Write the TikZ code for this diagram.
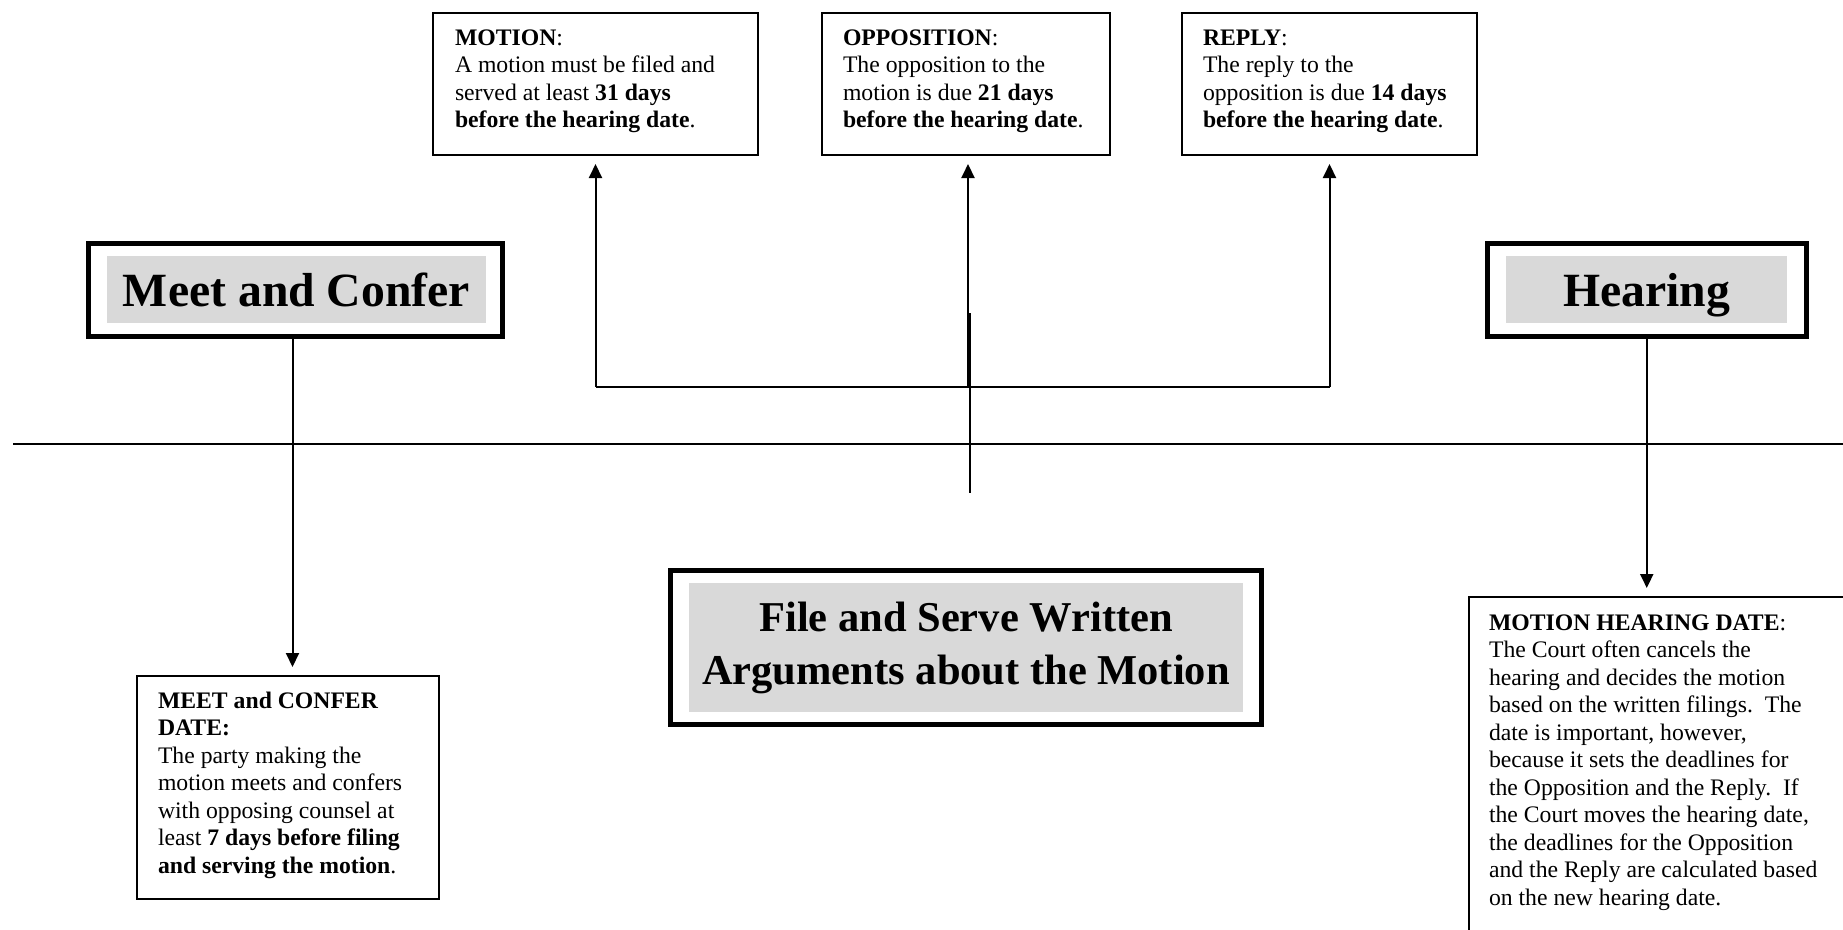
\documentclass[tikz,border=0pt]{standalone}
\usepackage{fontspec}
\setmainfont{Liberation Serif}
\usetikzlibrary{arrows.meta}
\definecolor{boxgray}{HTML}{D9D9D9}
\tikzset{
  line/.style={line width=2pt},
  arr/.style={line width=2pt,-{Triangle[width=13pt,length=14pt]},shorten >=9pt},
  thinbox/.style={draw,line width=1.8pt,inner sep=0pt,outer sep=0pt,anchor=north west},
  thickbox/.style={draw,line width=5pt,inner sep=0pt,outer sep=0pt},
  graybox/.style={fill=boxgray,inner sep=0pt,outer sep=0pt},
  txt/.style={inner sep=0pt,outer sep=0pt,anchor=base west},
  bigtxt/.style={font=\fontsize{47.7}{52}\selectfont\bfseries,text height=33pt,text depth=0pt},
}
\newcommand{\smalltext}[1]{\begin{minipage}[t]{420pt}\fontsize{23.7}{27.5}\selectfont #1\end{minipage}}
\begin{document}
\begin{tikzpicture}[x=1pt,y=-1pt]
\useasboundingbox (0,0) rectangle (1843,929);
\clip (0,0) rectangle (1843,929);

% top boxes
\node[thinbox,minimum width=325pt,minimum height=142pt] (motion) at (433,13) {};
\node[txt] (motiontxt) at ([xshift=22pt,yshift=-32pt]motion.north west) {\smalltext{%
\textbf{MOTION}:\\
A motion must be filed and\\
served at least \textbf{31 days}\\
\textbf{before the hearing date}.}};

\node[thinbox,minimum width=288pt,minimum height=142pt] (opp) at (822,13) {};
\node[txt] (opptxt) at ([xshift=21pt,yshift=-32pt]opp.north west) {\smalltext{%
\textbf{OPPOSITION}:\\
The opposition to the\\
motion is due \textbf{21 days}\\
\textbf{before the hearing date}.}};

\node[thinbox,minimum width=295pt,minimum height=142pt] (reply) at (1182,13) {};
\node[txt] (replytxt) at ([xshift=21pt,yshift=-32pt]reply.north west) {\smalltext{%
\textbf{REPLY}:\\
The reply to the\\
opposition is due \textbf{14 days}\\
\textbf{before the hearing date}.}};

% headline boxes
\node[thickbox,minimum width=414pt,minimum height=93pt] (meet) at (295.5,290) {};
\node[graybox,minimum width=379pt,minimum height=67pt,bigtxt] (meettxt) at (296.5,289.5) {Meet and Confer};

\node[thickbox,minimum width=319.5pt,minimum height=93pt] (hearing) at (1646.75,290) {};
\node[graybox,minimum width=281pt,minimum height=67pt,bigtxt] (hearingtxt) at (1646.5,289.5) {Hearing};

\node[thickbox,minimum width=591pt,minimum height=154pt] (file) at (966,647.5) {};
\node[graybox,minimum width=554pt,minimum height=129pt,align=center,
      font=\fontsize{42.5}{53}\selectfont\bfseries] (filetxt) at (966,647.5)
  {File and Serve Written\\Arguments about the Motion};

% bottom boxes
\node[thinbox,minimum width=302pt,minimum height=223pt] (meetdate) at (137,676) {};
\node[txt] (meetdatetxt) at ([xshift=21pt,yshift=-32pt]meetdate.north west) {\smalltext{%
\textbf{MEET and CONFER}\\
\textbf{DATE:}\\
The party making the\\
motion meets and confers\\
with opposing counsel at\\
least \textbf{7 days before filing}\\
\textbf{and serving the motion}.}};

\node[thinbox,minimum width=500pt,minimum height=400pt] (mhd) at (1469,597) {};
\node[txt] (mhdtxt) at ([xshift=20pt,yshift=-33pt]mhd.north west) {\smalltext{%
\textbf{MOTION HEARING DATE}:\\
The Court often cancels the\\
hearing and decides the motion\\
based on the written filings.\ \ The\\
date is important, however,\\
because it sets the deadlines for\\
the Opposition and the Reply.\ \ If\\
the Court moves the hearing date,\\
the deadlines for the Opposition\\
and the Reply are calculated based\\
on the new hearing date.}};

% timeline
\coordinate (tl) at (13,444);
\coordinate (tr) at (1843,444);
\draw[line] (tl) -- (tr);

% bracket to top boxes
\coordinate (brk) at (0,387);
\draw[line] (motion.south |- brk) -- (reply.south |- brk);
\draw[arr] (motion.south |- brk) -- (motion.south);
\draw[arr] ([xshift=2pt]opp.south |- brk) -- ([xshift=2pt]opp.south);
\draw[arr] (reply.south |- brk) -- (reply.south);

% centre line
\coordinate (ctop) at (970,313);
\coordinate (cbot) at (970,493);
\draw[line] (ctop) -- (cbot);

% down arrows
\draw[arr] ([xshift=-3pt]meet.south) -- ([xshift=-3pt]meet.south |- meetdate.north);
\draw[arr] (hearing.south) -- (hearing.south |- mhd.north);
\end{tikzpicture}
\end{document}
